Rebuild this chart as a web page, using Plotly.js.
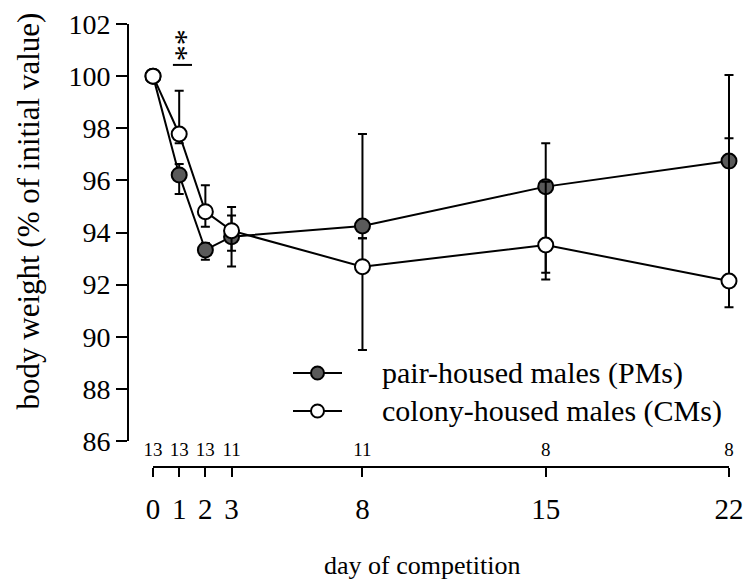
<!DOCTYPE html>
<html>
<head>
<meta charset="utf-8">
<script src="https://cdn.plot.ly/plotly-3.0.1.min.js"></script>
<style>html,body{margin:0;padding:0;background:#fff;}</style>
</head>
<body>
<div id="chart" style="width:745px;height:582px;"></div>
<script>
// ---- data ----
var days = [0, 1, 2, 3, 8, 15, 22];
var dayLabels = ['0', '1', '2', '3', '8', '15', '22'];
var sampleSizes = ['13', '13', '13', '11', '11', '8', '8'];

var pmName = 'pair-housed males (PMs)';
var pmValues = [100, 96.21, 93.33, 93.84, 94.25, 95.76, 96.74];
var pmUpper  = [100, 96.63, 93.60, 94.65, 97.78, 97.42, 97.62];
var pmLower  = [100, 95.48, 92.95, 92.70, 93.78, 92.46, 96.50];

var cmName = 'colony-housed males (CMs)';
var cmValues = [100, 97.78, 94.80, 94.07, 92.69, 93.52, 92.14];
var cmUpper  = [100, 99.44, 95.81, 94.98, 93.78, 95.95, 100.04];
var cmLower  = [100, 97.42, 94.22, 93.30, 89.49, 92.20, 91.13];

var yTitle = 'body weight (% of initial value)';
var xTitle = 'day of competition';
var sigMark = '**';

// ---- styling / geometry ----
var FONT = 'Liberation Serif';
var PM_FILL = '#5a5a5a';
var X_RANGE = [-0.917, 22.42];
var W = 745, H = 582, ML = 129, MR = 5, MT = 24, MB = 116;
var PW = W - ML - MR, PH = H - MT - MB;
function px2fx(px) { return (px - ML) / PW; }
function px2fy(py) { return (H - MB - py) / PH; }
function diff(a, b) { return a.map(function (v, i) { return +(v - b[i]).toFixed(3); }); }

var dom0 = (days[0] - X_RANGE[0]) / (X_RANGE[1] - X_RANGE[0]);
var dom1 = (days[days.length - 1] - X_RANGE[0]) / (X_RANGE[1] - X_RANGE[0]);

var errStyle = {type: 'data', symmetric: false, color: '#000', thickness: 2, width: 4.5};

var tracePM = {
  x: days, y: pmValues, name: pmName, type: 'scatter', mode: 'lines+markers',
  xaxis: 'x', yaxis: 'y', showlegend: false,
  line: {color: '#000', width: 2},
  marker: {size: 15, color: PM_FILL, line: {color: '#000', width: 2}},
  error_y: Object.assign({array: diff(pmUpper, pmValues), arrayminus: diff(pmValues, pmLower)}, errStyle),
  cliponaxis: false
};
var traceCM = {
  x: days, y: cmValues, name: cmName, type: 'scatter', mode: 'lines+markers',
  xaxis: 'x', yaxis: 'y', showlegend: false,
  line: {color: '#000', width: 2},
  marker: {size: 15, color: '#ffffff', line: {color: '#000', width: 2}},
  error_y: Object.assign({array: diff(cmUpper, cmValues), arrayminus: diff(cmValues, cmLower)}, errStyle),
  cliponaxis: false
};
var traceN = {
  x: days, y: days.map(function () { return 0.6; }), text: sampleSizes,
  type: 'scatter', mode: 'text', xaxis: 'x2', yaxis: 'y2',
  textfont: {family: FONT, size: 19, color: '#000'}, textposition: 'middle center',
  showlegend: false, hoverinfo: 'skip', cliponaxis: false
};

// hand-built legend (line + circle sample, then label)
var legendRows = [
  {name: pmName, fill: PM_FILL, y: 373},
  {name: cmName, fill: '#ffffff', y: 411}
];
var legShapes = [], legAnns = [];
legendRows.forEach(function (r) {
  legShapes.push({type: 'line', xref: 'paper', yref: 'paper',
    x0: px2fx(293), x1: px2fx(342), y0: px2fy(r.y), y1: px2fy(r.y),
    line: {color: '#000', width: 2}});
  legShapes.push({type: 'circle', xref: 'paper', yref: 'paper',
    xsizemode: 'pixel', ysizemode: 'pixel', xanchor: px2fx(317.5), yanchor: px2fy(r.y),
    x0: -6.5, x1: 6.5, y0: -6.5, y1: 6.5,
    fillcolor: r.fill, line: {color: '#000', width: 2}});
  legAnns.push({text: r.name, xref: 'paper', yref: 'paper', x: px2fx(380), y: px2fy(r.y),
    xanchor: 'left', yanchor: 'middle', showarrow: false,
    font: {family: FONT, size: 30, color: '#000'}});
});

var layout = {
  width: W, height: H,
  margin: {l: ML, r: MR, t: MT, b: MB},
  paper_bgcolor: '#fff', plot_bgcolor: 'rgba(0,0,0,0)',
  font: {family: FONT, color: '#000'},
  showlegend: false,
  xaxis: {
    domain: [0, 1], range: X_RANGE, anchor: 'y',
    showline: false, showticklabels: false, ticks: '', showgrid: false, zeroline: false
  },
  yaxis: {
    domain: [px2fy(441), 1], range: [86, 102], anchor: 'x',
    tickmode: 'linear', tick0: 86, dtick: 2,
    ticks: 'outside', ticklen: 11, tickwidth: 2, tickcolor: '#000',
    showline: true, linewidth: 2, linecolor: '#000',
    showgrid: false, zeroline: false,
    tickfont: {family: FONT, size: 28, color: '#000'}
  },
  xaxis2: {
    domain: [dom0, dom1], range: [days[0], days[days.length - 1]], anchor: 'y2',
    tickmode: 'array', tickvals: days, ticktext: dayLabels,
    ticks: 'outside', ticklen: 9, tickwidth: 2, tickcolor: '#000',
    showline: true, linewidth: 2, linecolor: '#000',
    showgrid: false, zeroline: false, ticklabelstandoff: 7,
    tickfont: {family: FONT, size: 29, color: '#000'}
  },
  yaxis2: {
    domain: [0, px2fy(441)], range: [0, 1], anchor: 'x2', visible: false
  },
  annotations: [
    {text: yTitle, xref: 'paper', yref: 'paper', x: 0, xshift: -101, y: px2fy(211.5),
     xanchor: 'center', yanchor: 'middle', textangle: -90, showarrow: false,
     font: {family: FONT, size: 31, color: '#000'}},
    {text: xTitle, xref: 'paper', yref: 'paper', x: px2fx(422), y: px2fy(565),
     xanchor: 'center', yanchor: 'middle', showarrow: false,
     font: {family: FONT, size: 26, color: '#000'}},
    {text: sigMark, xref: 'x', yref: 'y', x: 1.05, y: 101.2,
     xanchor: 'center', yanchor: 'middle', textangle: 90, showarrow: false, xshift: -3,
     font: {family: FONT, size: 32, color: '#000'}}
  ].concat(legAnns),
  shapes: [
    {type: 'line', xref: 'x', yref: 'y', x0: 0.76, x1: 1.49, y0: 100.43, y1: 100.43,
     line: {color: '#000', width: 2}}
  ].concat(legShapes)
};

Plotly.newPlot('chart', [tracePM, traceCM, traceN], layout, {displayModeBar: false, staticPlot: true});
</script>
</body>
</html>
